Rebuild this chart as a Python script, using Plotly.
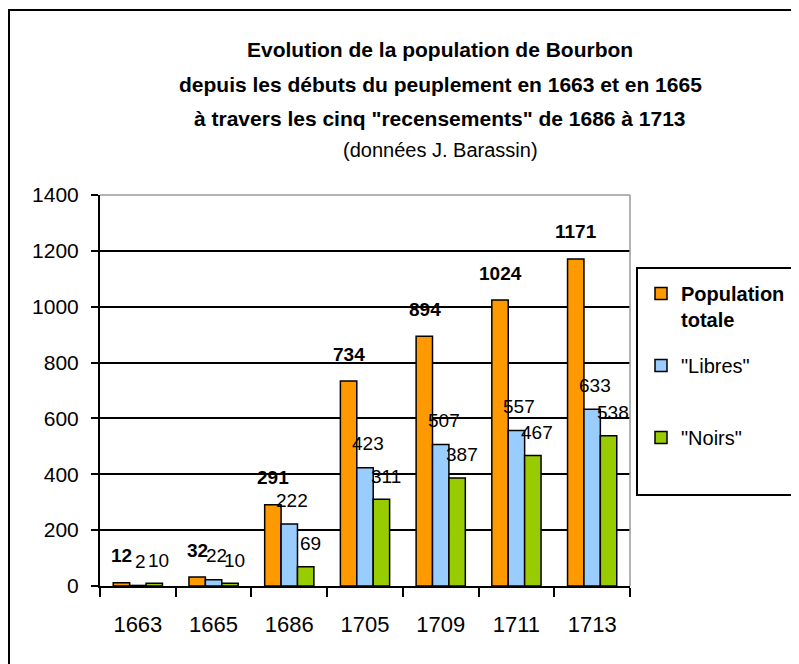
import plotly.graph_objects as go

years = ["1663", "1665", "1686", "1705", "1709", "1711", "1713"]
total = [12, 32, 291, 734, 894, 1024, 1171]
libres = [2, 22, 222, 423, 507, 557, 633]
noirs = [10, 10, 69, 311, 387, 467, 538]
y_ticks = [0, 200, 400, 600, 800, 1000, 1200, 1400]

FONT = "Liberation Sans, Arial, sans-serif"
OFF = 8  # page body margin
W, H = 799, 664
PL, PR, PT, PB = 100, 630, 195, 586  # plot area in page pixels
L, T = PL - OFF, PT - OFF
PW, PH = PR - PL, PB - PT
R = W - L - PW
B = H - T - PH

def px(x):
    return (x - PL) / PW

def py(y):
    return (PB - y) / PH

fig = go.Figure()
series = [
    ("<b>Population<br>totale</b>", total, "#FF9900", "g1"),
    ('"Libres"<br> ', libres, "#99CCFF", "g2"),
    ('"Noirs"', noirs, "#99CC00", "g3"),
]
for name, vals, col, grp in series:
    fig.add_trace(go.Bar(
        x=years, y=vals, name=name, legendgroup=grp,
        marker=dict(color=col, line=dict(color="black", width=1.5)),
    ))

# data labels
shifts = [(-16, 27, True), (3, 24, False), (21, 23, False)]
for (name, vals, col, grp), (xs, ys, bold) in zip(series, shifts):
    for i, v in enumerate(vals):
        fig.add_annotation(
            x=i, y=v, xref="x", yref="y", text=(f"<b>{v}</b>" if bold else str(v)),
            showarrow=False, xshift=xs, yshift=ys,
            font=dict(family=FONT, size=19, color="black"),
        )

titles = [
    ("<b>Evolution de la population de Bourbon</b>", 50, 21),
    ("<b>depuis les débuts du peuplement en 1663 et en 1665</b>", 84, 21),
    ('<b>à travers les cinq "recensements" de 1686 à 1713</b>', 118, 21),
    ("(données J. Barassin)", 150, 20),
]
for txt, y, s in titles:
    fig.add_annotation(x=px(440), y=py(y), xref="paper", yref="paper", text=txt,
                       showarrow=False, xanchor="center", yanchor="middle",
                       font=dict(family=FONT, size=s, color="black"))

# outer border
fig.add_shape(type="rect", xref="paper", yref="paper",
              x0=px(OFF + 1), x1=px(797), y0=py(700), y1=py(10),
              line=dict(color="black", width=2), layer="below")
# legend box
fig.add_shape(type="rect", xref="paper", yref="paper",
              x0=px(637), x1=px(795), y0=py(495), y1=py(268),
              line=dict(color="black", width=2), fillcolor="white", layer="below")
# plot area border (top/right gray)
fig.add_shape(type="line", xref="paper", yref="paper", x0=0, x1=1, y0=1, y1=1,
              line=dict(color="#999999", width=1.5))
fig.add_shape(type="line", xref="paper", yref="paper", x0=1, x1=1, y0=0, y1=1,
              line=dict(color="#999999", width=1.5))

fig.update_layout(
    width=W, height=H,
    margin=dict(l=L, r=R, t=T, b=B, autoexpand=False),
    paper_bgcolor="white", plot_bgcolor="white",
    barmode="group", bargap=0.35, bargroupgap=0,
    font=dict(family=FONT, size=18, color="black"),
    showlegend=True,
    legend=dict(x=px(641), y=py(274), xanchor="left", yanchor="top",
                bgcolor="rgba(0,0,0,0)", borderwidth=0, valign="top",
                font=dict(family=FONT, size=20, color="black"),
                tracegroupgap=17, traceorder="grouped"),
    xaxis=dict(type="category", range=[-0.5, len(years) - 0.5], automargin=False,
               showline=True, linecolor="black", linewidth=2,
               ticks="outside", tickson="boundaries", ticklen=9, tickwidth=1.5,
               tickcolor="black", showgrid=False, ticklabelstandoff=18,
               tickfont=dict(family=FONT, size=22)),
    yaxis=dict(range=[0, 1400], tickvals=y_ticks, automargin=False,
               showline=True, linecolor="black",
               linewidth=2, ticks="outside", ticklen=7, tickwidth=1.5, tickcolor="black",
               showgrid=True, gridcolor="black", gridwidth=1.5, zeroline=False,
               ticklabelstandoff=8,
               tickfont=dict(family=FONT, size=21)),
)

fig.write_html("out.html")
